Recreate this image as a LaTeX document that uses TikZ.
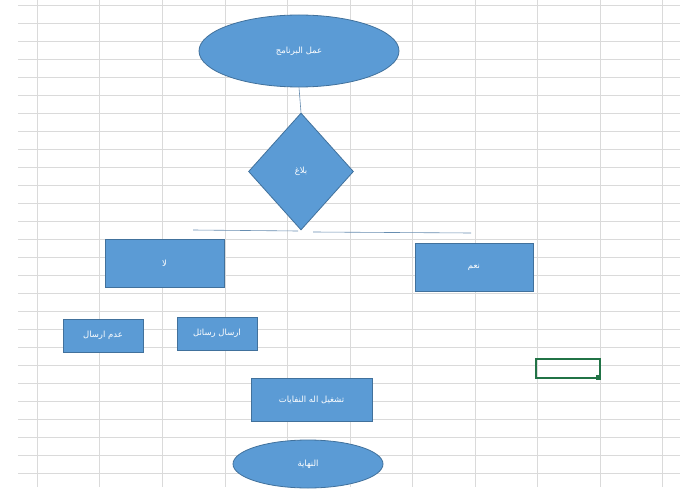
\documentclass[tikz,border=0pt]{standalone}
\usepackage{fontspec}
\usetikzlibrary{shapes.geometric}
\TeXXeTstate=1
\newfontfamily\arabicfont[Script=Arabic]{DejaVu Sans}
\definecolor{shfill}{HTML}{5B9BD5}
\definecolor{shdraw}{HTML}{41719C}
\definecolor{grid}{HTML}{DADADA}
\definecolor{xlgreen}{HTML}{217346}
\begin{document}
\begin{tikzpicture}[x=1pt,y=-1pt,
  shp/.style={fill=shfill,draw=shdraw,line width=0.8pt,text=white,font=\arabicfont\fontsize{8.5}{10}\selectfont,inner sep=0pt},
  boxa/.style={shp,rectangle},
  ell/.style={shp,ellipse},
  dia/.style={shp,diamond},
  conn/.style={draw=shdraw!80,line width=0.6pt}]
\useasboundingbox (0,0) rectangle (695,494);
\fill[white] (0,0) rectangle (695,494);
\foreach \y in {5,23,41,59,77,95,113,131,149,167,185,203,221,239,257,275,293,311,329,347,365,383,401,419,437,455,473}
  \draw[grid,line width=0.6pt] (18,\y) -- (680,\y);
\foreach \x in {37,99,162,225,287,350,412,475,537,600,662}
  \draw[grid,line width=0.6pt] (\x,0) -- (\x,487);
\node[ell,minimum width=200,minimum height=72] (start) at (299,51) {\beginR عمل البرنامج\endR};
\node[dia,minimum width=105,minimum height=117] (q) at (301,171.5) {\beginR بلاغ\endR};
\draw[conn] (start.south) -- (q.north);
\coordinate (l1) at (193,230); \coordinate (l2) at (298,231);
\coordinate (r1) at (313,232); \coordinate (r2) at (471,233);
\draw[conn] (l1) -- (l2);
\draw[conn] (r1) -- (r2);
\node[boxa,minimum width=119,minimum height=48] (no) at (164.5,263) {\beginR لا\endR};
\node[boxa,minimum width=118,minimum height=48] (yes) at (474,267) {\beginR نعم\endR};
\node[boxa,minimum width=80,minimum height=33] (nosend) at (103,335.5) {\beginR عدم ارسال\endR};
\node[boxa,minimum width=80,minimum height=33] (send) at (217,333.5) {\beginR ارسال رسائل\endR};
\node[boxa,minimum width=121,minimum height=43] (run) at (311.5,399.5) {\beginR تشغيل اله النفايات\endR};
\node[ell,minimum width=150,minimum height=48] (end) at (308,464) {\beginR النهاية\endR};
\draw[xlgreen,line width=1.3pt] (536,359) rectangle (600,378);
\fill[xlgreen] (596,375) rectangle (601,380);
\end{tikzpicture}
\end{document}
